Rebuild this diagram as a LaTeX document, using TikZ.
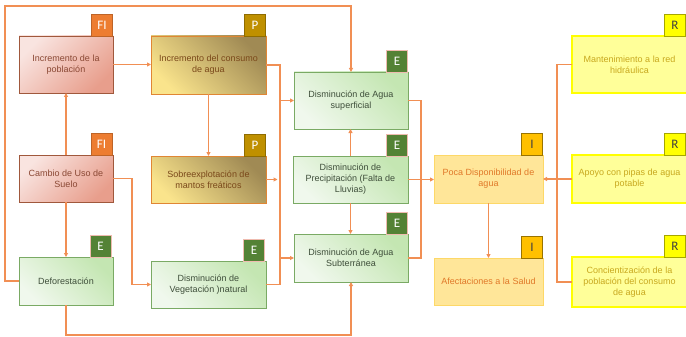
\documentclass[tikz,border=0pt]{standalone}
\usepackage{fontspec}
\setmainfont{Liberation Sans}
\newfontfamily\badgefont{Carlito}
\usetikzlibrary{arrows.meta,calc}

% palette
\definecolor{wireC}{RGB}{241,143,84}
\definecolor{fiLight}{RGB}{249,228,224}
\definecolor{fiDark}{RGB}{232,158,140}
\definecolor{fiLine}{RGB}{160,88,60}
\definecolor{fiText}{RGB}{138,72,52}
\definecolor{fiBadge}{RGB}{237,125,49}
\definecolor{pLight}{RGB}{250,228,140}
\definecolor{pDark}{RGB}{160,138,84}
\definecolor{pLine}{RGB}{224,134,52}
\definecolor{pText}{RGB}{122,72,26}
\definecolor{pBadge}{RGB}{191,144,0}
\definecolor{eLight}{RGB}{240,248,237}
\definecolor{eDark}{RGB}{196,230,178}
\definecolor{eLine}{RGB}{122,170,100}
\definecolor{eText}{RGB}{62,78,58}
\definecolor{eBadge}{RGB}{84,130,53}
\definecolor{iFill}{RGB}{255,230,153}
\definecolor{iLine}{RGB}{253,216,104}
\definecolor{iText}{RGB}{224,120,40}
\definecolor{iBadge}{RGB}{255,192,0}
\definecolor{rFill}{RGB}{255,255,153}
\definecolor{rLine}{RGB}{255,255,0}
\definecolor{rText}{RGB}{200,168,30}
\definecolor{rBadge}{RGB}{255,255,0}

\tikzset{
  every node/.style={inner sep=0pt, outer sep=0pt, font=\fontsize{9}{11}\selectfont, align=center},
  wire/.style={draw=wireC, line width=1.3pt},
  conn/.style={wire, -{Triangle[length=4pt,width=4pt]}},
  fibox/.style={draw=fiLine, line width=0.8pt, top color=fiLight, bottom color=fiDark, shading angle=45, text=fiText},
  pbox/.style={draw=pLine, line width=0.8pt, top color=pDark, bottom color=pLight, shading angle=-45, text=pText},
  ebox/.style={draw=eLine, line width=0.8pt, top color=eDark, bottom color=eLight, shading angle=-45, text=eText},
  ibox/.style={draw=iLine, line width=0.9pt, fill=iFill, text=iText},
  rbox/.style={draw=rLine, line width=1.2pt, fill=rFill, text=rText},
  badge/.style={minimum width=21pt, minimum height=22pt, anchor=south east, line width=0.7pt, font=\badgefont\fontsize{13}{13}\selectfont},
  fitag/.style={badge, fill=fiBadge, draw=fiBadge!80!black, text=white},
  ptag/.style={badge, fill=pBadge, draw=pBadge!75!black, text=white},
  etag/.style={badge, fill=eBadge, draw=fiDark!70!white, text=white},
  itag/.style={badge, fill=iBadge, draw=iBadge!60!black, text=black!75},
  rtag/.style={badge, fill=rBadge, draw=rBadge!65!black, text=black!75},
}

\begin{document}
\begin{tikzpicture}[x=1pt,y=-1pt]
\useasboundingbox (0,0) rectangle (686,337);

% driving forces and pressures
\node[fibox, minimum width=94pt, minimum height=57pt] (pob) at (66,64.5) {Incremento de la\\población};
\node[pbox, minimum width=115pt, minimum height=58pt] (cons) at (208.5,65) {Incremento del consumo\\de agua};
\node[fibox, minimum width=94pt, minimum height=47pt] (cam) at (66,178.5) {Cambio de Uso de\\Suelo};
\node[pbox, minimum width=115pt, minimum height=47pt] (sob) at (208.5,179.5) {Sobreexplotación de\\mantos freáticos};

% state boxes
\node[ebox, minimum width=94pt, minimum height=48pt] (def) at (66,281) {Deforestación};
\node[ebox, minimum width=115pt, minimum height=47pt] (veg) at (208.5,284.5) {Disminución de\\Vegetación )natural};
\node[ebox, minimum width=114pt, minimum height=57pt] (sup) at (351,100.5) {Disminución de Agua\\superficial};
\node[ebox, minimum width=115pt, minimum height=47pt] (prec) at (350.5,179.5) {Disminución de\\Precipitación (Falta de\\Lluvias)};
\node[ebox, minimum width=114pt, minimum height=48pt] (sub) at (351,258) {Disminución de Agua\\Subterránea};

% impacts
\node[ibox, minimum width=109pt, minimum height=48pt] (poca) at (488.5,179) {Poca Disponibilidad de\\agua};
\node[ibox, minimum width=109pt, minimum height=47pt] (sal) at (488.5,281.5) {Afectaciones a la Salud};

% responses
\node[rbox, minimum width=115pt, minimum height=57pt] (man) at (629.5,64.5) {Mantenimiento a la red\\hidráulica};
\node[rbox, minimum width=115pt, minimum height=48pt] (apo) at (629.5,179) {Apoyo con pipas de agua\\potable};
\node[rbox, minimum width=115pt, minimum height=50pt] (con) at (629.5,282) {Concientización de la\\población del consumo\\de agua};

% category tags
\node[fitag] (pobT) at ([xshift=-0.5pt]pob.north east) {FI};
\node[ptag] (consT) at ([xshift=-0.5pt]cons.north east) {P};
\node[fitag] (camT) at ([xshift=-1pt]cam.north east) {FI};
\node[ptag] (sobT) at ([xshift=-0.5pt]sob.north east) {P};
\node[etag] (defT) at ([xshift=-2pt]def.north east) {E};
\node[etag] (vegT) at ([xshift=-1.5pt]veg.north east) {E};
\node[etag] (supT) at ([xshift=-0.5pt]sup.north east) {E};
\node[etag] (precT) at ([xshift=-0.5pt]prec.north east) {E};
\node[etag] (subT) at ([xshift=-0.5pt]sub.north east) {E};
\node[itag] (pocaT) at ([xshift=-0.5pt]poca.north east) {I};
\node[itag] (salT) at ([xshift=-0.5pt]sal.north east) {I};
\node[rtag] (manT) at ([xshift=-1.5pt]man.north east) {R};
\node[rtag] (apoT) at ([xshift=-1.5pt]apo.north east) {R};
\node[rtag] (conT) at ([xshift=-1.5pt]con.north east) {R};

% connectors
\coordinate (topbend) at (351,6);
\draw[conn] (def.west) -- ++(-14,0) |- (topbend) -- (sup.north);
\draw[conn] (cam.north) -- (pob.south);
\draw[conn] (pob.east) -- (pob.east -| cons.west);
\draw[conn] (cons.south) -- (sob.north);
\draw[conn] (cam.south) -- (def.north);
\draw[conn] (cam.east) -- ++(19,0) |- (veg.west);
\draw[conn] (cons.east) -- ++(14,0) coordinate (busTop) |- (sup.west);
\draw[conn] (veg.east) -- ++(14,0) coordinate (busBot) |- (sub.west);
\draw[wire] (busTop) -- (busBot);
\draw[conn, shorten >=2.5pt] (sob.east) -- (sob.east -| busTop);
\draw[conn] (def.south) -- ++(0,30) -| (sub.south);
\draw[conn] (prec.north) -- (prec.north |- sup.south);
\draw[conn] (prec.south) -- (prec.south |- sub.north);
\draw[wire] (sup.east) -- ++(13,0) |- (sub.east);
\draw[conn] (prec.east) -- (prec.east -| poca.west);
\draw[conn] (poca.south) -- (sal.north);
\draw[wire] (man.west) -- ++(-15,0) |- (con.west);
\draw[conn] (apo.west) -- (poca.east);
\end{tikzpicture}
\end{document}
